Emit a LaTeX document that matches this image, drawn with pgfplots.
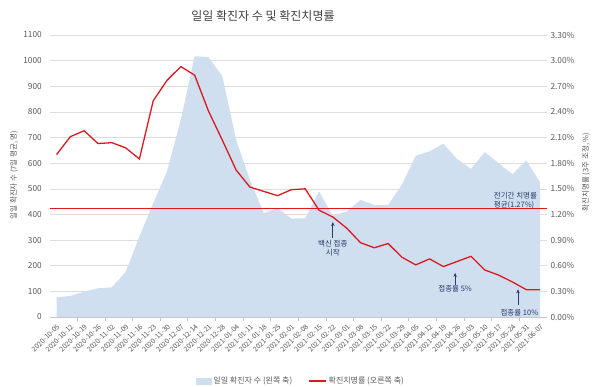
\documentclass[border=0pt]{standalone}
\usepackage{fontspec}
\setmainfont{Noto Sans CJK KR}
\usepackage{pgfplots}
\pgfplotsset{compat=1.18}
\usetikzlibrary{arrows.meta}
\definecolor{areablue}{HTML}{CFDFF0}
\definecolor{redl}{HTML}{DA1A1F}
\definecolor{txt}{HTML}{595959}
\definecolor{navy}{HTML}{2B3A67}
\definecolor{gridc}{HTML}{DDDDDD}
\definecolor{axisc}{HTML}{C4C4C4}
\begin{document}
\begin{tikzpicture}[x=1pt,y=1pt]
\useasboundingbox (0,0) rectangle (602,386);
\pgfplotsset{every axis/.append style={
  scale only axis, width=497.4pt, height=282pt,
  at={(49.6pt,69pt)}, anchor=south west,
  xmin=-0.5, xmax=35.5,
  /pgf/number format/assume math mode=true,
  /pgf/number format/1000 sep={},
  tick label style={font=\fontsize{8.3}{10}\selectfont, text=txt}}}
\begin{axis}[
  ymin=0, ymax=1100, ytick={0,100,...,1100},
  axis x line*=bottom, axis y line*=left,
  y axis line style={draw=none},
  x axis line style={draw=axisc, line width=0.7pt, -},
  ymajorgrids, grid style={gridc, line width=0.6pt},
  major y tick style={draw=none},
  xtick={0,...,35},
  xticklabels={2020-10-05,2020-10-12,2020-10-19,2020-10-26,2020-11-02,2020-11-09,2020-11-16,2020-11-23,2020-11-30,2020-12-07,2020-12-14,2020-12-21,2020-12-28,2021-01-04,2021-01-11,2021-01-18,2021-01-25,2021-02-01,2021-02-08,2021-02-15,2021-02-22,2021-03-01,2021-03-08,2021-03-15,2021-03-22,2021-03-29,2021-04-05,2021-04-12,2021-04-19,2021-04-26,2021-05-03,2021-05-10,2021-05-17,2021-05-24,2021-05-31,2021-06-07},
  major x tick style={draw=none},
  minor xtick={1.5,3.5,...,33.5},
  minor x tick style={draw=axisc, line width=0.7pt},
  minor tick length=4pt, tick align=outside,
  xticklabel style={rotate=45, anchor=north east, inner sep=1.5pt, font=\fontsize{7}{8}\selectfont},
]
\addplot[fill=areablue, draw=none] coordinates {
(0,77)(1,82)(2,99)(3,112)(4,116)(5,175)(6,314)(7,444)(8,568)(9,770)(10,1017)(11,1014)(12,939)(13,691)(14,535)(15,405)(16,425)(17,384)(18,385)(19,490)(20,395)(21,411)(22,457)(23,437)(24,437)(25,516)(26,629)(27,646)(28,676)(29,616)(30,578)(31,643)(32,600)(33,557)(34,611)(35,525)} \closedcycle;
\draw[navy, line width=0.7pt, -{Stealth[length=4pt,width=3.5pt]}] (axis cs:20,309) -- (axis cs:20,370);
\node[font=\fontsize{7.5}{9}\selectfont, text=navy, align=center, anchor=north, inner sep=1pt] at (axis cs:20,304) {백신 접종\\시작};
\draw[navy, line width=0.7pt, -{Stealth[length=4pt,width=3.5pt]}] (axis cs:28.85,125) -- (axis cs:28.85,172);
\node[font=\fontsize{7.5}{9}\selectfont, text=navy, inner sep=1pt] at (axis cs:28.85,109) {접종률 5\%};
\draw[navy, line width=0.7pt, -{Stealth[length=4pt,width=3.5pt]}] (axis cs:33.4,47) -- (axis cs:33.4,108);
\node[font=\fontsize{7.5}{9}\selectfont, text=navy, inner sep=1pt] at (axis cs:33.5,17) {접종률 10\%};
\node[font=\fontsize{7.5}{9}\selectfont, text=navy, align=left, anchor=west, inner sep=1pt] at (axis cs:31.57,453) {전기간 치명률\\평균(1.27\%)};
\end{axis}
\begin{axis}[
  ymin=0, ymax=3.3, ytick={0,0.3,0.6,0.9,1.2,1.5,1.8,2.1,2.4,2.7,3.0,3.3},
  axis x line=none, axis y line*=right,
  y axis line style={draw=none},
  major y tick style={draw=none},
  yticklabel={\pgfmathprintnumber[fixed,fixed zerofill,precision=2]{\tick}\%},
  legend style={at={(0.5054,-0.227)}, anchor=center, draw=none, fill=none,
    font=\fontsize{8}{10}\selectfont, text=txt,
    /tikz/every even column/.append style={column sep=14pt}},
  legend columns=2, legend cell align=left,
]
\addlegendimage{legend image code/.code={\fill[areablue] (0pt,-3pt) rectangle (15pt,3pt);}}
\addlegendentry{일일 확진자 수 (왼쪽 축)}
\addplot[redl, line width=1.3pt] coordinates {
(0,1.90)(1,2.11)(2,2.18)(3,2.03)(4,2.04)(5,1.98)(6,1.85)(7,2.53)(8,2.77)(9,2.93)(10,2.83)(11,2.41)(12,2.07)(13,1.72)(14,1.52)(15,1.47)(16,1.42)(17,1.49)(18,1.50)(19,1.25)(20,1.17)(21,1.04)(22,0.87)(23,0.81)(24,0.86)(25,0.70)(26,0.61)(27,0.68)(28,0.59)(29,0.65)(30,0.71)(31,0.55)(32,0.49)(33,0.41)(34,0.32)(35,0.32)};
\addlegendentry{확진치명률 (오른쪽 축)}
\addplot[redl, line width=0.8pt, forget plot] coordinates {(-0.5,1.27)(35.5,1.27)};
\end{axis}
\node[font=\fontsize{12}{14}\selectfont, text=black!75] at (263,370) {일일 확진자 수 및 확진치명률};
\node[rotate=90, font=\fontsize{7.5}{9}\selectfont, text=txt] at (14,211) {일일 확진자 수 (7일 평균, 명)};
\node[rotate=90, font=\fontsize{7.5}{9}\selectfont, text=txt] at (586,214) {확진치명률 (3주 조정, \%)};
\end{tikzpicture}
\end{document}
